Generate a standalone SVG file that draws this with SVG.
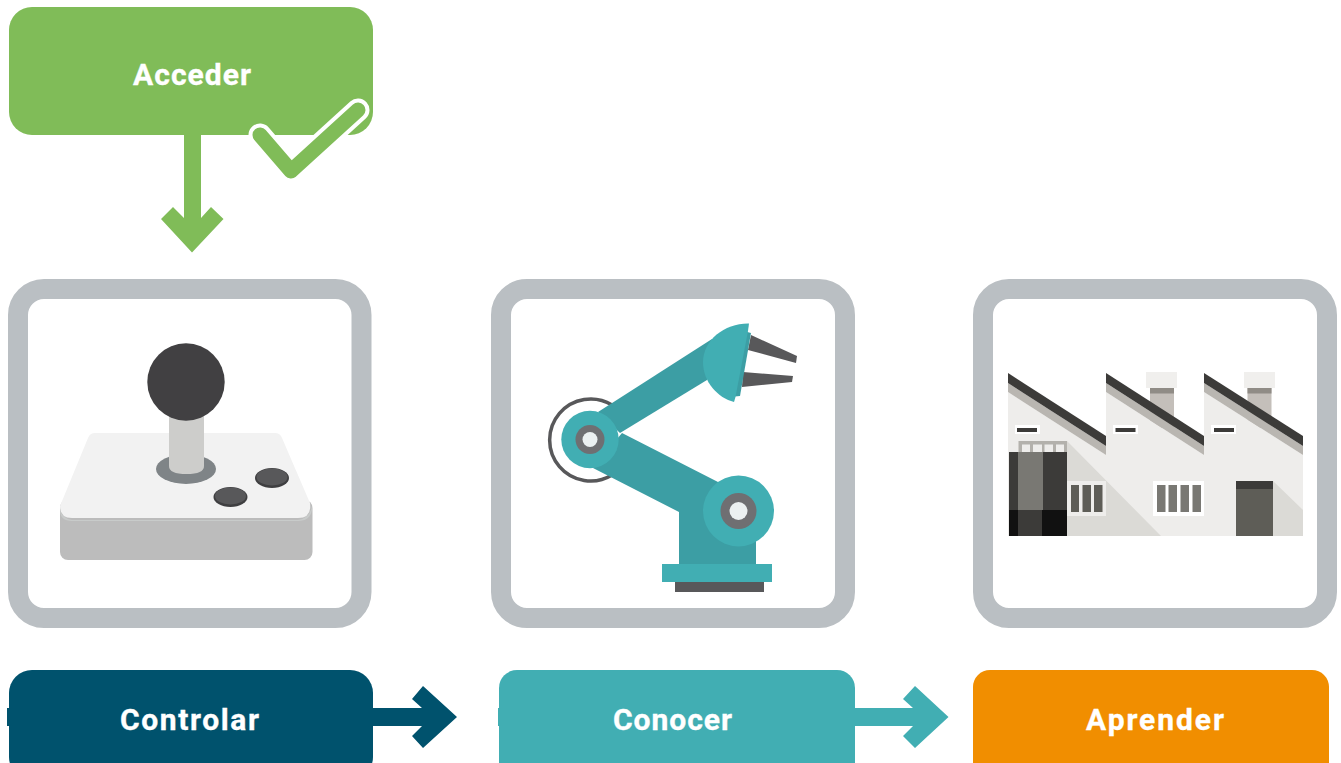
<svg xmlns="http://www.w3.org/2000/svg" width="1341" height="763" viewBox="0 0 1341 763">
<style>
.label{font-family:"Roboto","Liberation Sans",sans-serif;font-weight:700;font-size:30px;fill:#fff;stroke:#fff;stroke-width:.35px;text-anchor:middle}
.frame{fill:#fff;stroke:#babfc3;stroke-width:20}
.teal{fill:#41aeb3}.tealD{fill:#3c9ea4}.gr{fill:#58585a}
.wall{fill:#eeedeb}.dk{fill:#3c3b39}.rf{fill:#b9b6b1}.sh{fill:#dbdad6}.cap{fill:#f0efed}.chim{fill:#c4bfba}.chimT{fill:#908c86}.p1{fill:#5e5d57}.p2{fill:#797873}
</style>
<rect width="1341" height="763" fill="#fff"/>
<g id="connectors">
<path id="arrow-acceder" fill="#80bc58" d="M184,135H201V218L211,207L223.500,219L192,252.500L161,219L173,207L184,218Z"/>
<path id="arrow-controlar" fill="#00526d" d="M373,708H422L412,699L423,686L457,717L423,748L412,736L422,726H373Z"/>
<path id="arrow-conocer" fill="#41aeb3" d="M855,708H913L903,699L915,686L948.500,717L915,748L903,736L913,726H855Z"/>
</g>
<g id="node-acceder">
<rect x="9" y="7" width="364" height="128" rx="23" fill="#80bc58"/>
<path d="M260,135L291,171L358,110" fill="none" stroke="#fff" stroke-width="23" stroke-linecap="round" stroke-linejoin="round"/>
<path d="M260,135L291,171L358,110" fill="none" stroke="#80bc58" stroke-width="15" stroke-linecap="round" stroke-linejoin="round"/>
<text class="label" x="192" y="85" textLength="118" lengthAdjust="spacing">Acceder</text>
</g>
<g id="node-joystick">
<rect class="frame" x="18" y="289" width="343.500" height="329" rx="26"/>
<rect x="60" y="500" width="252.500" height="60" rx="8" fill="#bcbcbc"/>
<path d="M60,510V506Q60,518 72,520H298Q310,518 312,506V510Q310,521 298,521H72Q60,521 60,510Z" fill="#c8cbca"/>
<path d="M95,433H275Q280,433 282,438L310,503Q312,518 298,518H72Q60,518 60,506L88,438Q90,433 95,433Z" fill="#f2f2f2"/>
<ellipse cx="186" cy="469" rx="30" ry="15" fill="#7f8487"/>
<path d="M169,415H204V466Q204,474 186.500,474Q169,474 169,466Z" fill="#cdcdcb"/>
<circle cx="186" cy="382" r="38.700" fill="#414042"/>
<ellipse cx="230.500" cy="497" rx="17" ry="10" fill="#3f3f41"/><ellipse cx="230.500" cy="496" rx="15.500" ry="8.500" class="gr"/>
<ellipse cx="272" cy="478" rx="17" ry="10" fill="#3f3f41"/><ellipse cx="272" cy="477" rx="15.500" ry="8.500" class="gr"/>
</g>
<g id="node-robot">
<rect class="frame" x="501" y="289" width="344" height="329" rx="26"/>
<path d="M612,405A41,41 0 1 0 612,475" fill="none" stroke="#58585a" stroke-width="3.500"/>
<path class="gr" d="M751,335L797,356L796,363L748,350Z"/>
<path class="gr" d="M743,372L793,376L792,382L742,387Z"/>
<path class="tealD" d="M598,412L712,339L707,380L620,433Z"/>
<path class="tealD" d="M622,433L718,482L756,510V564H679V512L593,468Z"/>
<path class="tealD" d="M740,330L751,333L740,396L730,397Z"/>
<path class="teal" d="M749,323.500C725,323 703,340 703,362C703,382 718,398 734,402L735.500,397L748,331Z"/>
<circle class="teal" cx="590" cy="439.500" r="28.700"/><circle cx="590" cy="439.500" r="14.500" fill="#6f6f72"/><circle cx="590" cy="439.500" r="7.500" fill="#ecf0f1"/>
<circle class="teal" cx="738.500" cy="511" r="35.500"/><circle cx="738.500" cy="511" r="18" fill="#6f6f72"/><circle cx="738.500" cy="511" r="9" fill="#ecf0f1"/>
<rect class="teal" x="662" y="564" width="110" height="18"/>
<rect class="gr" x="675" y="582" width="89" height="10"/>
</g>
<g id="node-factory">
<rect class="frame" x="983" y="289" width="344" height="329" rx="26"/>
<rect class="chim" x="1150" y="388" width="24" height="40"/><rect class="chimT" x="1150" y="388" width="24" height="5.500"/><rect class="cap" x="1146" y="372" width="31" height="16"/>
<rect class="chim" x="1247.500" y="388" width="24" height="40"/><rect class="chimT" x="1247.500" y="388" width="24" height="5.500"/><rect class="cap" x="1244" y="372" width="31" height="16"/>
<path class="wall" d="M1008,392L1106,455V392L1204,455V392L1303,455V536H1008Z"/>
<path class="sh" d="M1067,441L1161,536H1067Z"/>
<path class="sh" d="M1273,481L1303,510V536H1273Z"/>
<path class="rf" d="M1008,383L1106,446V455L1008,392Z"/><path class="dk" d="M1008,373L1106,436V446L1008,383Z"/>
<path class="rf" d="M1106,383L1204,446V455L1106,392Z"/><path class="dk" d="M1106,373L1204,436V446L1106,383Z"/>
<path class="rf" d="M1204,383L1303,446V455L1204,392Z"/><path class="dk" d="M1204,373L1303,436V446L1204,383Z"/>
<rect x="1015" y="425" width="25" height="9" fill="#fff"/><rect class="dk" x="1017" y="428" width="20" height="4"/>
<rect x="1113" y="425" width="25" height="9" fill="#fff"/><rect class="dk" x="1115.500" y="428" width="20" height="4"/>
<rect x="1211" y="425" width="25" height="9" fill="#fff"/><rect class="dk" x="1214" y="428" width="20" height="4"/>
<rect x="1018.500" y="441" width="48.500" height="11" fill="#b3b1ac"/>
<g fill="#eeedeb"><rect x="1022" y="444.500" width="8" height="7.500"/><rect x="1033" y="444.500" width="9" height="7.500"/><rect x="1044.500" y="444.500" width="8.500" height="7.500"/><rect x="1056" y="444.500" width="8" height="7.500"/></g>
<rect class="dk" x="1009" y="452" width="58" height="58"/><rect class="p2" x="1018" y="452" width="25" height="58"/>
<rect x="1009" y="510" width="58" height="26" fill="#111"/><rect class="dk" x="1018" y="510" width="24" height="26"/>
<rect class="wall" x="1067" y="481" width="39" height="35"/>
<rect class="p1" x="1071" y="485" width="8" height="27"/><rect class="p1" x="1082.500" y="485" width="8.500" height="27"/><rect class="p1" x="1094" y="485" width="8.500" height="27"/>
<rect x="1153" y="481" width="51" height="35" fill="#fff"/>
<rect class="p2" x="1157" y="485" width="8.500" height="27"/><rect class="p2" x="1168.500" y="485" width="8.500" height="27"/><rect class="p2" x="1180.500" y="485" width="8.500" height="27"/><rect class="p2" x="1192.500" y="485" width="8.500" height="27"/>
<rect class="p1" x="1236" y="481" width="37" height="55"/><rect class="dk" x="1236" y="481" width="37" height="8"/>
</g>
<g id="node-controlar">
<rect x="7" y="708" width="6" height="18" fill="#00526d"/>
<rect x="9" y="670" width="364" height="110" rx="23" fill="#00526d"/>
<text class="label" x="189.500" y="730" textLength="139" lengthAdjust="spacing">Controlar</text>
</g>
<g id="node-conocer">
<rect x="498" y="708" width="6" height="18" fill="#41aeb3"/>
<rect x="499" y="670" width="356" height="110" rx="18" fill="#41aeb3"/>
<text class="label" x="672.500" y="730" textLength="119" lengthAdjust="spacing">Conocer</text>
</g>
<g id="node-aprender">
<rect x="973" y="670" width="356" height="110" rx="17" fill="#f18e00"/>
<text class="label" x="1155" y="730" textLength="138" lengthAdjust="spacing">Aprender</text>
</g>
</svg>
